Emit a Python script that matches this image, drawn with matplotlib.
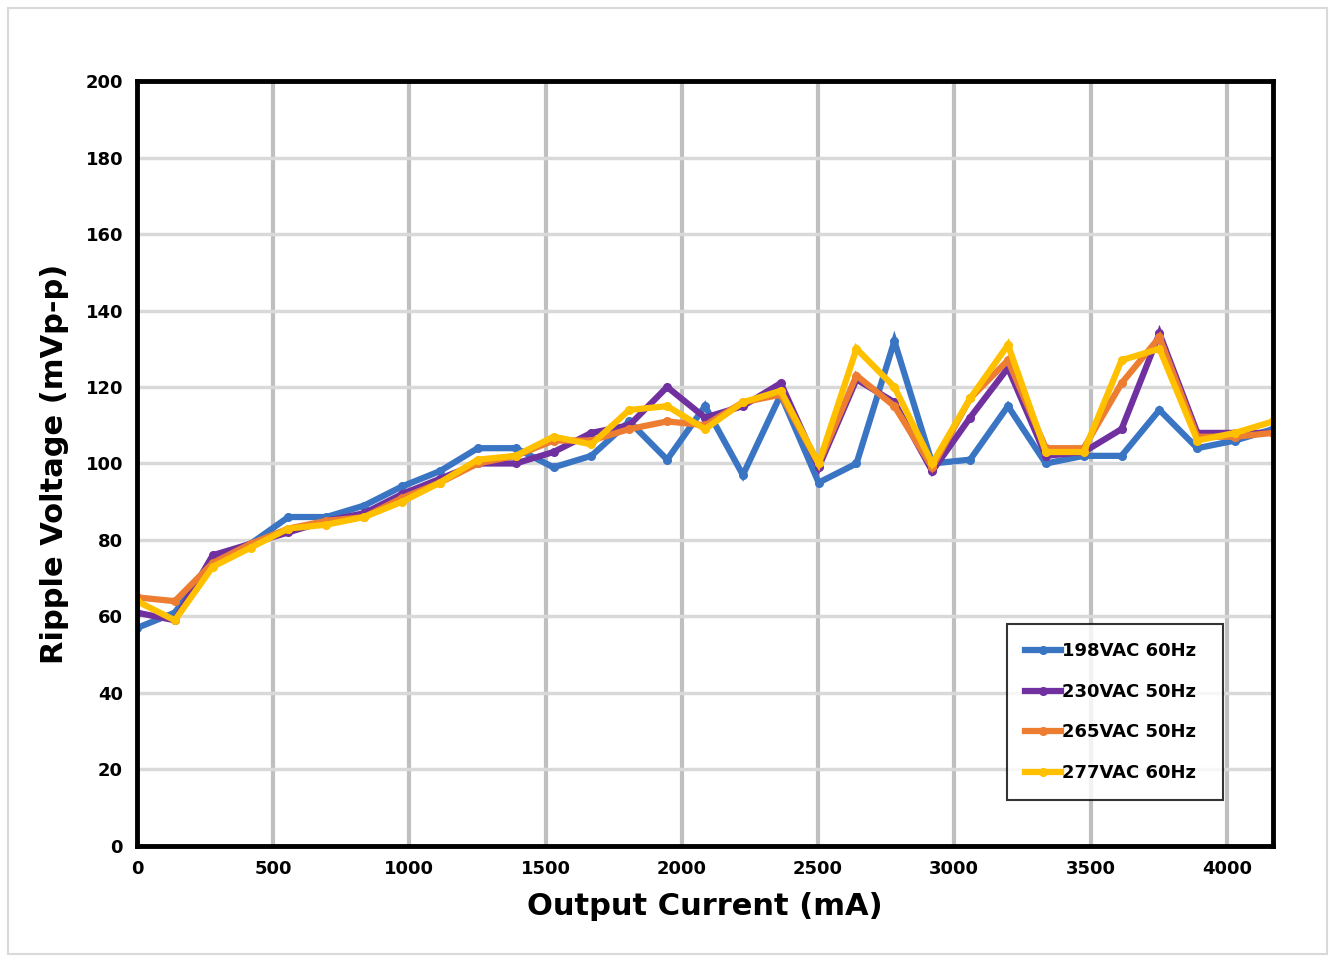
import matplotlib
matplotlib.use('Agg')
import matplotlib.pyplot as plt
from matplotlib.patches import Rectangle

# Output current steps (mA)
current_mA = [round(i * 139) for i in range(31)]

ripple_198 = [57, 61, 75, 79, 86, 86, 89, 94, 98, 104, 104, 99, 102, 111, 101, 115,
              97, 118, 95, 100, 132, 100, 101, 115, 100, 102, 102, 114, 104, 106, 109]
ripple_230 = [61, 59, 76, 79, 82, 85, 87, 92, 96, 100, 100, 103, 108, 110, 120, 112,
              115, 121, 99, 122, 116, 98, 112, 125, 102, 103, 109, 134, 108, 108, 108]
ripple_265 = [65, 64, 74, 79, 83, 85, 86, 91, 95, 100, 102, 106, 106, 109, 111, 110,
              116, 118, 100, 123, 115, 99, 117, 127, 104, 104, 121, 133, 107, 107, 108]
ripple_277 = [64, 59, 73, 78, 83, 84, 86, 90, 95, 101, 102, 107, 105, 114, 115, 109,
              116, 119, 100, 130, 120, 100, 117, 131, 103, 103, 127, 130, 106, 108, 111]

series = [
    ('198VAC 60Hz', ripple_198, '#3A75C4'),
    ('230VAC 50Hz', ripple_230, '#7030A0'),
    ('265VAC 50Hz', ripple_265, '#ED7D31'),
    ('277VAC 60Hz', ripple_277, '#FFC000'),
]

fig = plt.figure(figsize=(13.35, 9.6), dpi=100)
fig.patches.append(Rectangle((0.006, 0.006), 0.988, 0.986, transform=fig.transFigure,
                             fill=False, edgecolor='#d9d9d9', linewidth=1.5))
ax = fig.add_axes([0.1026, 0.1188, 0.8510, 0.7968])

for label, vals, color in series:
    ax.plot(current_mA, vals, color=color, linewidth=4.5, marker='o', markersize=5.5,
            label=label, solid_joinstyle='miter')

ax.set_xlim(0, 4170)
ax.set_ylim(0, 200)
ax.set_xticks(range(0, 4001, 500))
ax.set_yticks(range(0, 201, 20))

# grid: heavy vertical, lighter horizontal
ax.grid(axis='x', color='#bfbfbf', linewidth=3)
ax.grid(axis='y', color='#d9d9d9', linewidth=2.5)
ax.set_axisbelow(True)

for sp in ax.spines.values():
    sp.set_linewidth(3.5)
    sp.set_color('black')

ax.tick_params(length=0, pad=10)
for t in ax.get_xticklabels() + ax.get_yticklabels():
    t.set_fontweight('heavy')
    t.set_fontsize(13)

ax.set_xlabel('Output Current (mA)', fontsize=22, fontweight='bold', labelpad=10)
ax.set_ylabel('Ripple Voltage (mVp-p)', fontsize=22, fontweight='bold', labelpad=12)

leg = ax.legend(loc='lower left', bbox_to_anchor=(0.766, 0.06, 0.19, 0.239),
                mode='expand', borderaxespad=0, fontsize=13, frameon=True,
                fancybox=False, edgecolor='black', labelspacing=1.25,
                handlelength=2.0, handletextpad=0.05, borderpad=1.0,
                prop={'size': 13, 'weight': 'bold'})
leg.get_frame().set_linewidth(1.5)

fig.savefig('out.png', dpi=100)
